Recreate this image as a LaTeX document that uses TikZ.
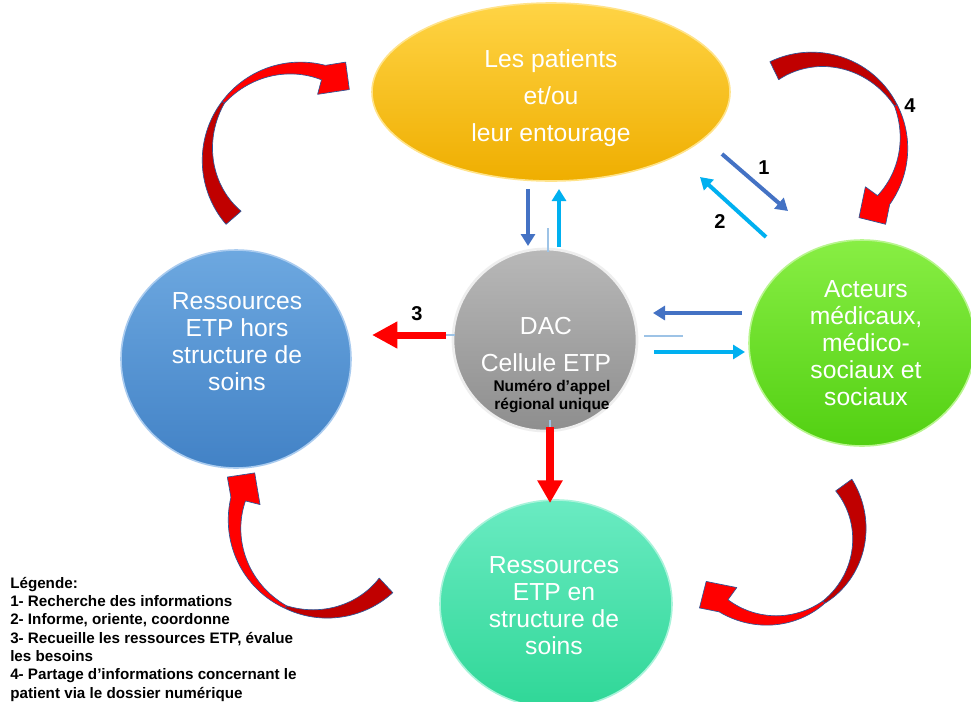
\documentclass[tikz,border=0pt]{standalone}
\usepackage{fontspec}
\setmainfont{Liberation Sans}
\usetikzlibrary{shapes.geometric,arrows.meta}
\definecolor{arrdark}{HTML}{4472C4}
\definecolor{arrlight}{HTML}{00B0F0}
\definecolor{stubblue}{HTML}{9DC3E6}
\definecolor{redar}{HTML}{FF0000}
\definecolor{ribdark}{HTML}{C00000}
\definecolor{ribred}{HTML}{FF0000}
\definecolor{ribedge}{HTML}{2F5597}
\definecolor{yelT}{HTML}{FFD445}
\definecolor{yelB}{HTML}{EFAE00}
\definecolor{yelE}{HTML}{FFE38A}
\definecolor{bluT}{HTML}{6DA8E0}
\definecolor{bluB}{HTML}{4282C6}
\definecolor{bluE}{HTML}{A9CBEF}
\definecolor{grnT}{HTML}{88EE44}
\definecolor{grnB}{HTML}{52D012}
\definecolor{grnE}{HTML}{B8F58E}
\definecolor{tealT}{HTML}{6AEBC2}
\definecolor{tealB}{HTML}{2FD797}
\definecolor{tealE}{HTML}{A8F3DA}
\definecolor{gryT}{HTML}{B8B8B8}
\definecolor{gryB}{HTML}{8E8E8E}
\definecolor{gryE}{HTML}{EEEEEE}
\newcommand\ribbonarrow[7]{%
  \pgfmathsetmacro\rbX{#1}%
  \pgfmathsetmacro\rbY{#2}%
  \pgfmathsetmacro\rbR{#3}%
  \pgfmathsetmacro\rbA{#4}%
  \pgfmathsetmacro\rbB{#5}%
  \pgfmathsetmacro\rbI{#6}%
  \pgfmathsetmacro\rbT{#7}%
  \pgfmathsetmacro\rbO{\rbI+10}%
  \pgfmathsetmacro\rbP{\rbI+20}%
  \filldraw[ribline,fill=ribdark]
    plot[domain=\rbA:\rbB,samples=40] ({\rbX+(\rbR-(\rbT-1.5)*(\x-(\rbA))/(\rbB-(\rbA)))*cos(\x)},{\rbY+(\rbR-(\rbT-1.5)*(\x-(\rbA))/(\rbB-(\rbA)))*sin(\x)})
    -- plot[domain=\rbB:\rbA,samples=40] ({\rbX+(\rbR-20+(18.5-\rbT)*(\x-(\rbA))/(\rbB-(\rbA)))*cos(\x)},{\rbY+(\rbR-20+(18.5-\rbT)*(\x-(\rbA))/(\rbB-(\rbA)))*sin(\x)})
    -- cycle;
  \filldraw[ribline,fill=ribred]
    plot[domain=\rbB:\rbI,samples=40] ({\rbX+(\rbR-\rbT+1.5+(\rbT-1.5)*(\x-\rbB)/(\rbI-\rbB))*cos(\x)},{\rbY+(\rbR-\rbT+1.5+(\rbT-1.5)*(\x-\rbB)/(\rbI-\rbB))*sin(\x)})
    -- ({\rbX+(\rbR+10)*cos(\rbO)},{\rbY+(\rbR+10)*sin(\rbO)})
    -- ({\rbX+(\rbR-12)*cos(\rbP)},{\rbY+(\rbR-12)*sin(\rbP)})
    -- ({\rbX+(\rbR-30)*cos(\rbI)},{\rbY+(\rbR-30)*sin(\rbI)})
    -- plot[domain=\rbI:\rbB,samples=40] ({\rbX+(\rbR-\rbT-1.5-(13.5-\rbT)*(\x-\rbB)/(\rbI-\rbB))*cos(\x)},{\rbY+(\rbR-\rbT-1.5-(13.5-\rbT)*(\x-\rbB)/(\rbI-\rbB))*sin(\x)})
    -- cycle;
}
\begin{document}
\begin{tikzpicture}[x=0.75pt,y=-0.75pt,
  ribline/.style={draw=ribedge,line width=0.5pt,line join=round},
  bigtxt/.style={text=white,align=center,inner sep=0pt,font=\fontsize{18.5}{20.25}\selectfont},
  bigtxtw/.style={text=white,align=center,inner sep=0pt,font=\fontsize{18.5}{27.75}\selectfont},
  blk/.style={text=black,align=center,inner sep=0pt,font=\bfseries\fontsize{11.6}{13.5}\selectfont},
  numlab/.style={text=black,inner sep=0pt,font=\bfseries\fontsize{15}{18}\selectfont},
  legend/.style={text=black,align=left,inner sep=0pt,anchor=north west,font=\bfseries\fontsize{11.4}{13.7}\selectfont},
  darr/.style={draw=arrdark,line width=3pt,-{Triangle[length=9pt,width=10.5pt]}},
  larr/.style={draw=arrlight,line width=3pt,-{Triangle[length=9pt,width=10.5pt]}},
  stub/.style={draw=stubblue,line width=0.8pt},
  rarr/.style={draw=redar,line width=5.25pt,-{Triangle[length=19pt,width=19pt]}},
  rarrb/.style={draw=redar,line width=6.5pt,-{Triangle[length=17pt,width=18pt]}},
  blob/.style={ellipse,inner sep=0pt}
]
\useasboundingbox (0,0) rectangle (971,701);
\clip (0,0) rectangle (971,701);
\fill[white] (0,0) rectangle (971,701);

% curved ribbon arrows
\ribbonarrow{300}{160}{98}{139}{217}{285}{2}
\ribbonarrow{812}{148}{96}{244}{333}{396}{2}
\ribbonarrow{775}{535}{95}{-36}{54}{126}{12}
\ribbonarrow{326}{521}{98}{47}{115}{194}{3}

% shapes
\node[blob,minimum width=358*0.75pt,minimum height=178*0.75pt,top color=yelT,bottom color=yelB,draw=yelE,line width=1.2pt] (pat) at (551,92) {};
\node[blob,minimum width=230*0.75pt,minimum height=218*0.75pt,top color=bluT,bottom color=bluB,draw=bluE,line width=1.2pt] (hors) at (236,359) {};
\node[blob,minimum width=226*0.75pt,minimum height=206*0.75pt,top color=grnT,bottom color=grnB,draw=grnE,line width=1.2pt] (act) at (862,343) {};
\node[blob,minimum width=232*0.75pt,minimum height=208*0.75pt,top color=tealT,bottom color=tealB,draw=tealE,line width=1.2pt] (en) at (556,604) {};
\node[blob,minimum width=184*0.75pt,minimum height=182*0.75pt,top color=gryT,bottom color=gryB,draw=gryE,line width=2pt] (dac) at (545,340) {};

% texts
\node[bigtxtw] (patT) at (551,98) {Les patients\\et/ou\\leur entourage};
\node[bigtxt] (horsT) at (237,342) {Ressources\\ETP hors\\structure de\\soins};
\node[bigtxt] (actT) at (866,343) {Acteurs\\médicaux,\\médico-\\sociaux et\\sociaux};
\node[bigtxt] (enT) at (554,606) {Ressources\\ETP en\\structure de\\soins};
\node[bigtxtw] (dacT) at (546,344) {DAC\\Cellule ETP};
\node[blk] (dacN) at (552,396) {Numéro d’appel\\régional unique};

% straight arrows: patients <-> DAC
\coordinate (p1) at (528,189); \coordinate (d1) at (528,246);
\coordinate (d2) at (559,247); \coordinate (p2) at (559,189);
\draw[darr] (p1) -- (d1);
\draw[larr] (d2) -- (p2);
\coordinate (s1a) at (548,228); \coordinate (s1b) at (548,252);
\draw[stub] (s1a) -- (s1b);

% patients <-> acteurs
\coordinate (q1) at (722,154); \coordinate (q2) at (788,211);
\coordinate (q3) at (766,237); \coordinate (q4) at (700,177);
\draw[darr] (q1) -- (q2);
\draw[larr] (q3) -- (q4);
\node[numlab] (n1) at (764,168) {1};
\node[numlab] (n2) at (720,222) {2};

% DAC <-> acteurs
\coordinate (h1) at (742,313); \coordinate (h2) at (653,313);
\coordinate (h3) at (654,352); \coordinate (h4) at (745,352);
\draw[darr] (h1) -- (h2);
\draw[larr] (h3) -- (h4);
\coordinate (s2a) at (644,336); \coordinate (s2b) at (683,336);
\draw[stub] (s2a) -- (s2b);

% DAC -> hors structure
\coordinate (r1) at (446,335); \coordinate (r2) at (372,335);
\coordinate (s3a) at (445,335); \coordinate (s3b) at (455,335);
\draw[stub] (s3a) -- (s3b);
\draw[rarr] (r1) -- (r2);
\node[numlab] (n3) at (417,314) {3};

% DAC -> en structure
\coordinate (v0) at (550,420); \coordinate (v1) at (550,427); \coordinate (v2) at (550,503);
\draw[stub] (v0) -- (v1);
\draw[rarrb] (v1) -- (v2);

\node[numlab] (n4) at (910,106) {4};

% legend
\node[legend] (leg) at (10,577) {Légende:\\1- Recherche des informations\\2- Informe, oriente, coordonne\\3- Recueille les ressources ETP, évalue\\les besoins\\4- Partage d’informations concernant le\\patient via le dossier numérique};
\end{tikzpicture}
\end{document}
